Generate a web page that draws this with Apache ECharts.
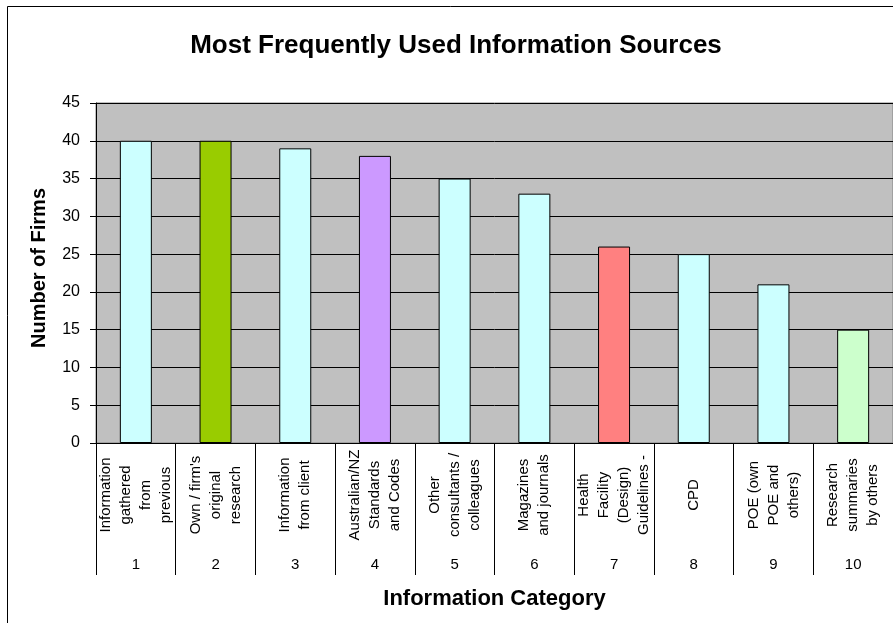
<!DOCTYPE html>
<html>
<head>
<meta charset="utf-8">
<script src="https://cdn.jsdelivr.net/npm/echarts@6/dist/echarts.min.js"></script>
<style>
html,body{margin:0;padding:0;background:#fff;}
#c{width:893px;height:623px;}
</style>
</head>
<body>
<div id="c"></div>
<script>
var categoryNames = [
  "Information\ngathered\nfrom\nprevious",
  "Own / firm's\noriginal\nresearch",
  "Information\nfrom client",
  "Australian/NZ\nStandards\nand Codes",
  "Other\nconsultants /\ncolleagues",
  "Magazines\nand journals",
  "Health\nFacility\n(Design)\nGuidelines -",
  "CPD",
  "POE (own\nPOE and\nothers)",
  "Research\nsummaries\nby others"
];
var categoryNumbers = ["1","2","3","4","5","6","7","8","9","10"];
var firmCounts = [40, 40, 39, 38, 35, 33, 26, 25, 21, 15];
var barColors = ["#CCFFFF","#99CC00","#CCFFFF","#CC99FF","#CCFFFF","#CCFFFF","#FF8080","#CCFFFF","#CCFFFF","#CCFFCC"];

var FONT = "Liberation Sans, Arial, sans-serif";
var chart = echarts.init(document.getElementById('c'), null, {renderer: 'canvas'});

var option = {
  animation: false,
  backgroundColor: '#ffffff',
  title: {
    text: 'Most Frequently Used Information Sources',
    left: 451,
    textAlign: 'center',
    top: 28,
    textStyle: {fontFamily: FONT, fontSize: 26, fontWeight: 'bold', color: '#000'}
  },
  graphic: [
    {type: 'rect', shape: {x: 7.5, y: 6.5, width: 900, height: 630}, style: {fill: 'none', stroke: '#000', lineWidth: 1}, z: -1},
    {type: 'text', x: 39, y: 268, rotation: Math.PI / 2,
     style: {text: 'Number of Firms', font: 'bold 20px ' + FONT, fill: '#000', align: 'center', verticalAlign: 'middle'}}
  ],
  grid: {
    left: 96, top: 103, width: 799, height: 340,
    show: true, backgroundColor: '#C0C0C0', borderColor: '#808080', borderWidth: 1
  },
  xAxis: [
    {
      type: 'category',
      data: categoryNames,
      position: 'bottom',
      axisLine: {show: true, lineStyle: {color: '#000', width: 1}},
      axisTick: {show: true, length: 132, lineStyle: {color: '#000'}},
      axisLabel: {
        rotate: 90, align: 'center', verticalAlign: 'middle', margin: 52,
        fontFamily: FONT, fontSize: 15, lineHeight: 20, color: '#000', interval: 0
      },
      name: 'Information Category',
      nameLocation: 'middle',
      nameGap: 145,
      nameTextStyle: {fontFamily: FONT, fontSize: 22, fontWeight: 'bold', color: '#000'}
    },
    {
      type: 'category',
      data: categoryNumbers,
      position: 'bottom',
      axisLine: {show: false},
      axisTick: {show: false},
      axisLabel: {margin: 114, fontFamily: FONT, fontSize: 15, color: '#000', interval: 0}
    }
  ],
  yAxis: {
    type: 'value',
    min: 0, max: 45, interval: 5,
    axisLine: {show: true, lineStyle: {color: '#000'}},
    axisTick: {show: true, length: 6, lineStyle: {color: '#000'}},
    axisLabel: {margin: 16, fontFamily: FONT, fontSize: 16, color: '#000'},
    splitLine: {show: true, lineStyle: {color: '#000', width: 1}}
  },
  series: [{
    type: 'bar',
    xAxisIndex: 0,
    barWidth: 32,
    data: firmCounts.map(function (v, i) {
      return {value: v, itemStyle: {color: barColors[i]}};
    }),
    itemStyle: {borderColor: '#000', borderWidth: 1}
  }]
};
chart.setOption(option);
</script>
</body>
</html>
